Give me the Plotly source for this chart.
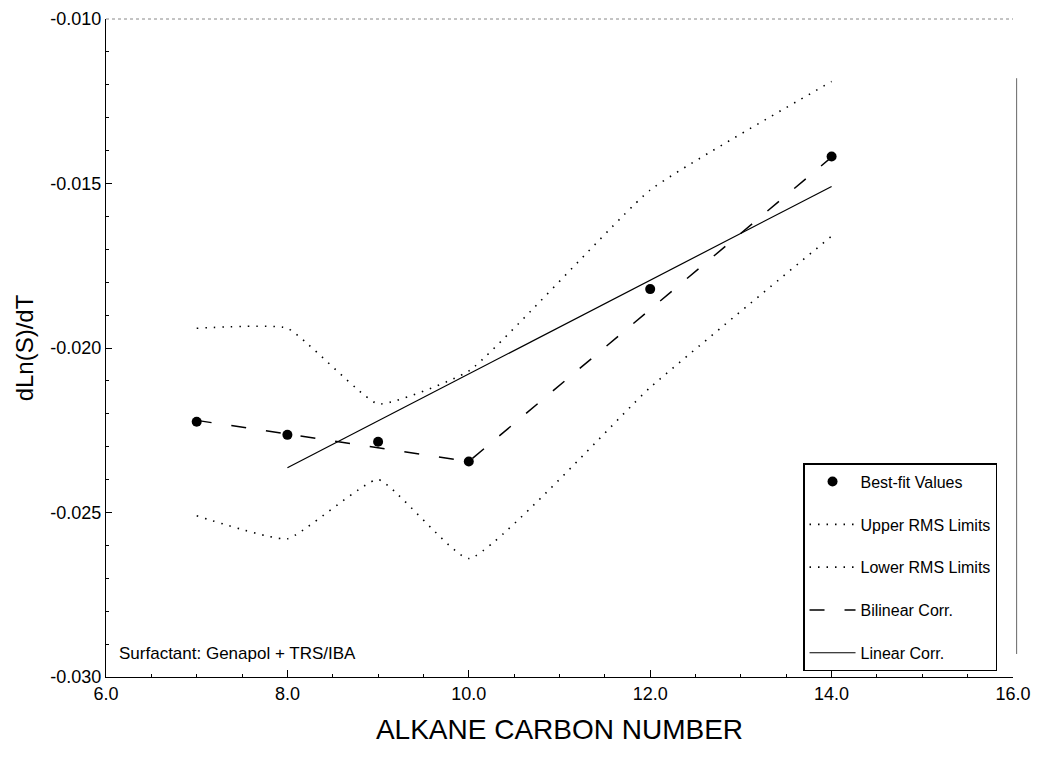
import plotly.graph_objects as go

# ---- data ----
alkane_points = [7, 8, 9, 10, 12, 14]
best_fit = [-0.02224, -0.02264, -0.02285, -0.02345, -0.01821, -0.01418]

rms_x = [7, 8, 9, 10, 12, 14]
upper_rms = [-0.0194, -0.0194, -0.0217, -0.0207, -0.0152, -0.0119]
lower_rms = [-0.0251, -0.0258, -0.0240, -0.0264, -0.0212, -0.0166]

bilinear_x = [7, 10, 14]
bilinear_y = [-0.0222, -0.02345, -0.0142]

linear_x = [8, 14]
linear_y = [-0.02364, -0.01509]

x_tick_vals = [6, 8, 10, 12, 14, 16]
x_tick_text = ["6.0", "8.0", "10.0", "12.0", "14.0", "16.0"]
y_tick_vals = [-0.030, -0.025, -0.020, -0.015, -0.010]
y_tick_text = ["-0.030", "-0.025", "-0.020", "-0.015", "-0.010"]

FONT = "Liberation Sans, Arial, Helvetica, sans-serif"

fig = go.Figure()

fig.add_trace(go.Scatter(
    x=alkane_points, y=best_fit, mode="markers", name="Best-fit Values",
    marker=dict(color="black", size=10), legendgroup="a"))
fig.add_trace(go.Scatter(
    x=rms_x, y=upper_rms, mode="lines", name="Upper RMS Limits",
    line=dict(color="black", width=1.6, dash="1.5px,7px", shape="spline", smoothing=0.4),
    legendgroup="b"))
fig.add_trace(go.Scatter(
    x=rms_x, y=lower_rms, mode="lines", name="Lower RMS Limits",
    line=dict(color="black", width=1.6, dash="1.5px,7px", shape="spline", smoothing=0.4),
    legendgroup="c"))
fig.add_trace(go.Scatter(
    x=bilinear_x, y=bilinear_y, mode="lines", name="Bilinear Corr.",
    line=dict(color="black", width=1.5, dash="15px,20px"), legendgroup="d"))
fig.add_trace(go.Scatter(
    x=linear_x, y=linear_y, mode="lines", name="Linear Corr.",
    line=dict(color="black", width=1.2), legendgroup="e"))

fig.add_annotation(
    x=0.012, y=0.018, xref="paper", yref="paper", xanchor="left", yanchor="bottom",
    text="Surfactant: Genapol + TRS/IBA", showarrow=False,
    font=dict(family=FONT, size=17, color="black"))

# page body has an 8px default margin: size/margins compensate for it
fig.update_layout(
    width=1032, height=751,
    margin=dict(l=98, r=27, t=11, b=82, autoexpand=False),
    paper_bgcolor="white", plot_bgcolor="white",
    font=dict(family=FONT, color="black"),
    showlegend=True,
    legend=dict(
        x=0.7685, y=0.325, xanchor="left", yanchor="top",
        bordercolor="black", borderwidth=1.5, bgcolor="white",
        font=dict(family=FONT, size=16, color="black"),
        tracegroupgap=19, itemwidth=46),
    xaxis=dict(
        range=[6, 16], tickvals=x_tick_vals, ticktext=x_tick_text,
        ticks="inside", ticklen=7, tickcolor="black", automargin=False,
        showline=True, linecolor="black", linewidth=1, mirror=False,
        showgrid=False, zeroline=False,
        tickfont=dict(family=FONT, size=18), ticklabeloverflow="allow",
        minor=dict(dtick=0.5, ticks="inside", ticklen=3, tickcolor="black", showgrid=False),
        title=dict(text="ALKANE CARBON NUMBER", font=dict(family=FONT, size=28), standoff=16)),
    yaxis=dict(
        range=[-0.030, -0.010], tickvals=y_tick_vals, ticktext=y_tick_text,
        ticks="inside", ticklen=6, tickcolor="black", automargin=False,
        showline=True, linecolor="black", linewidth=1, mirror=False,
        showgrid=False, zeroline=False,
        tickfont=dict(family=FONT, size=18), ticklabeloverflow="allow",
        minor=dict(dtick=0.001, ticks="inside", ticklen=3, tickcolor="black", showgrid=False),
        title=dict(text="dLn(S)/dT", font=dict(family=FONT, size=24), standoff=9)),
)

# top and right frame (faint)
fig.add_shape(type="line", xref="paper", yref="paper", x0=0, x1=1, y0=1, y1=1,
              line=dict(color="#888888", width=1, dash="dot"))
fig.add_shape(type="line", xref="paper", yref="paper", x0=1.004, x1=1.004, y0=0.035, y1=0.91,
              line=dict(color="#666666", width=1))

fig.write_html("out.html")
